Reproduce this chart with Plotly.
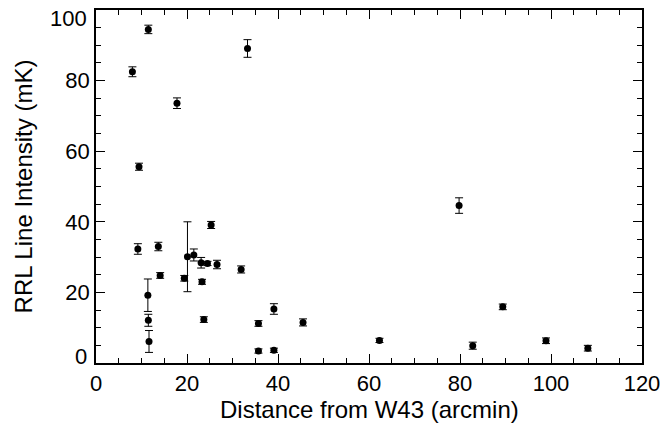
import plotly.graph_objects as go

distance = [8.0, 11.5, 17.8, 33.3, 9.45, 9.2, 13.7, 25.3, 14.1, 11.4, 11.5, 11.65,
            19.4, 20.1, 21.5, 23.1, 24.5, 26.6, 23.3, 31.9, 23.7, 35.7, 35.7, 39.1,
            39.1, 45.5, 62.3, 79.8, 82.8, 89.4, 98.9, 108.1]
intensity = [82.5, 94.5, 73.6, 89.1, 55.6, 32.3, 33.0, 39.1, 24.8, 19.2, 12.1, 6.1,
             24.0, 30.1, 30.6, 28.4, 28.2, 27.9, 23.0, 26.5, 12.3, 11.2, 3.4, 15.3,
             3.6, 11.5, 6.4, 44.6, 4.9, 15.9, 6.3, 4.2]
error = [1.4, 1.2, 1.5, 2.5, 1.0, 1.5, 1.2, 1.0, 0.8, 4.6, 1.7, 3.1,
         0.8, 9.9, 1.7, 1.5, 0.6, 1.2, 0.7, 1.0, 0.8, 0.8, 0.6, 1.5,
         0.6, 1.0, 0.6, 2.2, 1.0, 0.8, 0.8, 0.8]

x_ticks = [0, 20, 40, 60, 80, 100, 120]
y_ticks = [0, 20, 40, 60, 80, 100]
x_title = "Distance from W43 (arcmin)"
y_title = "RRL Line Intensity (mK)"

fig = go.Figure()
fig.add_trace(go.Scatter(
    x=distance, y=intensity, mode="markers",
    marker=dict(color="black", size=7),
    error_y=dict(type="data", array=error, visible=True, color="black",
                 thickness=1, width=4),
    showlegend=False,
))

tick_font = dict(family="Liberation Sans, Arial, sans-serif", size=22, color="black")
title_font = dict(family="Liberation Sans, Arial, sans-serif", size=24, color="black")
axis_common = dict(
    showline=True, linecolor="black", linewidth=1.5, mirror="ticks",
    ticks="inside", ticklen=9, tickwidth=1.2, tickcolor="black",
    showgrid=False, zeroline=False, tickfont=tick_font, automargin=False,
    ticklabeloverflow="allow",
    minor=dict(ticks="inside", ticklen=5, tickwidth=1, tickcolor="black", dtick=5),
)
# end labels of the y axis are nudged inward (as in the reference), drawn as annotations
y_end = [y_ticks[0], y_ticks[-1]]
y_ticktext = ["" if v in y_end else str(v) for v in y_ticks]

fig.update_xaxes(range=[0, 120], tickvals=x_ticks, **axis_common)
fig.update_yaxes(range=[0, 100], tickvals=y_ticks, ticktext=y_ticktext,
                 title=dict(text=y_title, font=title_font, standoff=26),
                 **axis_common)

for v, shift in zip(y_end, [7, -8]):
    fig.add_annotation(x=0, xref="paper", xanchor="right", xshift=-7,
                       y=v, yref="y", yanchor="middle", yshift=shift,
                       text=str(v), showarrow=False, font=tick_font)

fig.add_annotation(x=0.5, xref="paper", xanchor="center",
                   y=0, yref="paper", yanchor="top", yshift=-31,
                   text=x_title, showarrow=False, font=title_font)

fig.update_layout(
    width=663, height=428,
    margin=dict(l=96, r=21, t=10, b=65),
    paper_bgcolor="white", plot_bgcolor="white",
    font=tick_font,
)
fig.write_html("out.html")
